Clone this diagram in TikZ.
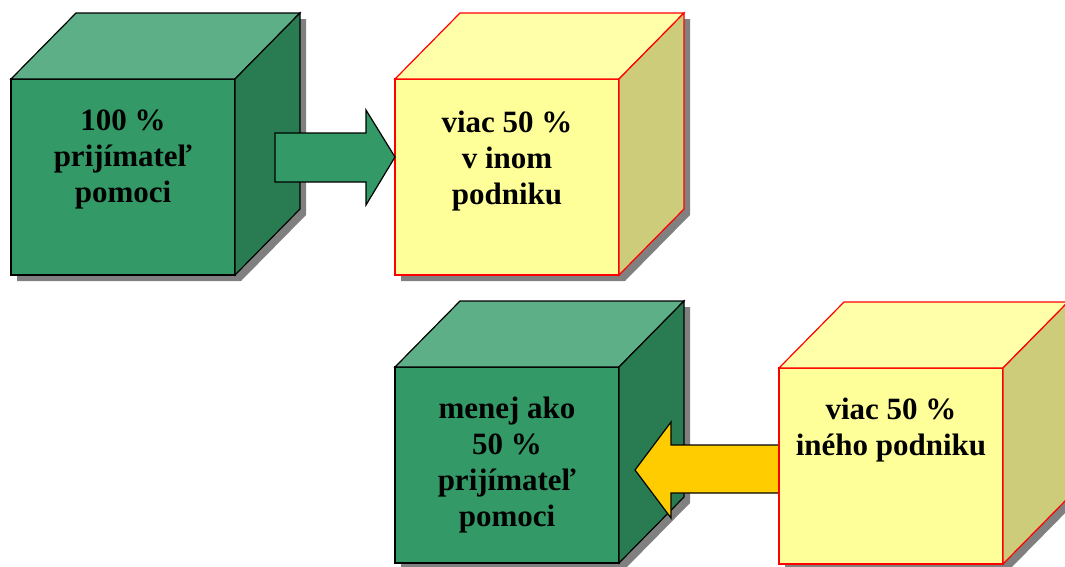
\documentclass[tikz,border=0pt]{standalone}
\usepackage{fontspec}
\setmainfont{Liberation Serif}
\usetikzlibrary{calc}
\definecolor{gfront}{HTML}{339966}
\definecolor{gtop}{HTML}{5CAF86}
\definecolor{gside}{HTML}{297C52}
\definecolor{yfront}{HTML}{FFFF99}
\definecolor{ytop}{HTML}{FFFFAA}
\definecolor{yside}{HTML}{CCCC7A}
\definecolor{shadowc}{HTML}{808080}
\definecolor{arrowy}{HTML}{FFCC00}
\tikzset{
  edgeg/.style={draw=black, line width=1.2pt, line join=miter},
  edgey/.style={draw=red, line width=1.2pt, line join=miter},
  lbl/.style={font=\bfseries\fontsize{31}{36}\selectfont, align=center, inner sep=0pt, anchor=north, text=black},
  blockarrow/.style={draw=black, line width=1.2pt, line join=miter},
}
% #1 name, #2 x, #3 y, #4 front, #5 top, #6 side, #7 edge style
\newcommand\mycube[7]{%
  \fill[shadowc] ({#2+6},{#3+6}) -- ++(65,-66) -- ++(224,0) -- ++(0,196) -- ++(-65,66) -- ++(-224,0) -- cycle;
  \node[#7, fill=#4, minimum width=224pt, minimum height=196pt, anchor=north west, inner sep=0pt, outer sep=0pt] (#1) at (#2,#3) {};
  \path[#7, fill=#5] (#1.north west) -- ++(65,-66) -- ++(224,0) -- (#1.north east) -- cycle;
  \path[#7, fill=#6] (#1.north east) -- ++(65,-66) -- ++(0,196) -- (#1.south east) -- cycle;
}
\begin{document}
\begin{tikzpicture}[x=1pt,y=-1pt]
\useasboundingbox (0,0) rectangle (1065,566);
\fill[white] (0,0) rectangle (1065,566);
% top row
\mycube{c1}{11}{79}{gfront}{gtop}{gside}{edgeg}
\node[lbl] (t1) at ($(c1.north)+(0,31)$) {100 \%\\prijímateľ\\pomoci};
\mycube{c2}{395}{79}{yfront}{ytop}{yside}{edgey}
\node[lbl] (t2) at ($(c2.north)+(0,32)$) {viac 50 \%\\v inom\\podniku};
\coordinate (a1tail) at (275,133);
\path[blockarrow, fill=gfront] (a1tail) -- (366,133) -- (366,110) -- (c2.west |- 0,157) -- (366,205) -- (366,182) -- (275,182) -- cycle;
% bottom row
\mycube{c3}{395}{367}{gfront}{gtop}{gside}{edgeg}
\node[lbl] (t3) at ($(c3.north)+(0,30)$) {menej ako\\50 \%\\prijímateľ\\pomoci};
\path[blockarrow, fill=arrowy] (779,445) -- (671,445) -- (671,422) -- (635,470) -- (671,518) -- (671,493) -- (779,493) -- cycle;
\mycube{c4}{779}{368}{yfront}{ytop}{yside}{edgey}
\node[lbl] (t4) at ($(c4.north)+(0,30)$) {viac 50 \%\\iného podniku};
\end{tikzpicture}
\end{document}
